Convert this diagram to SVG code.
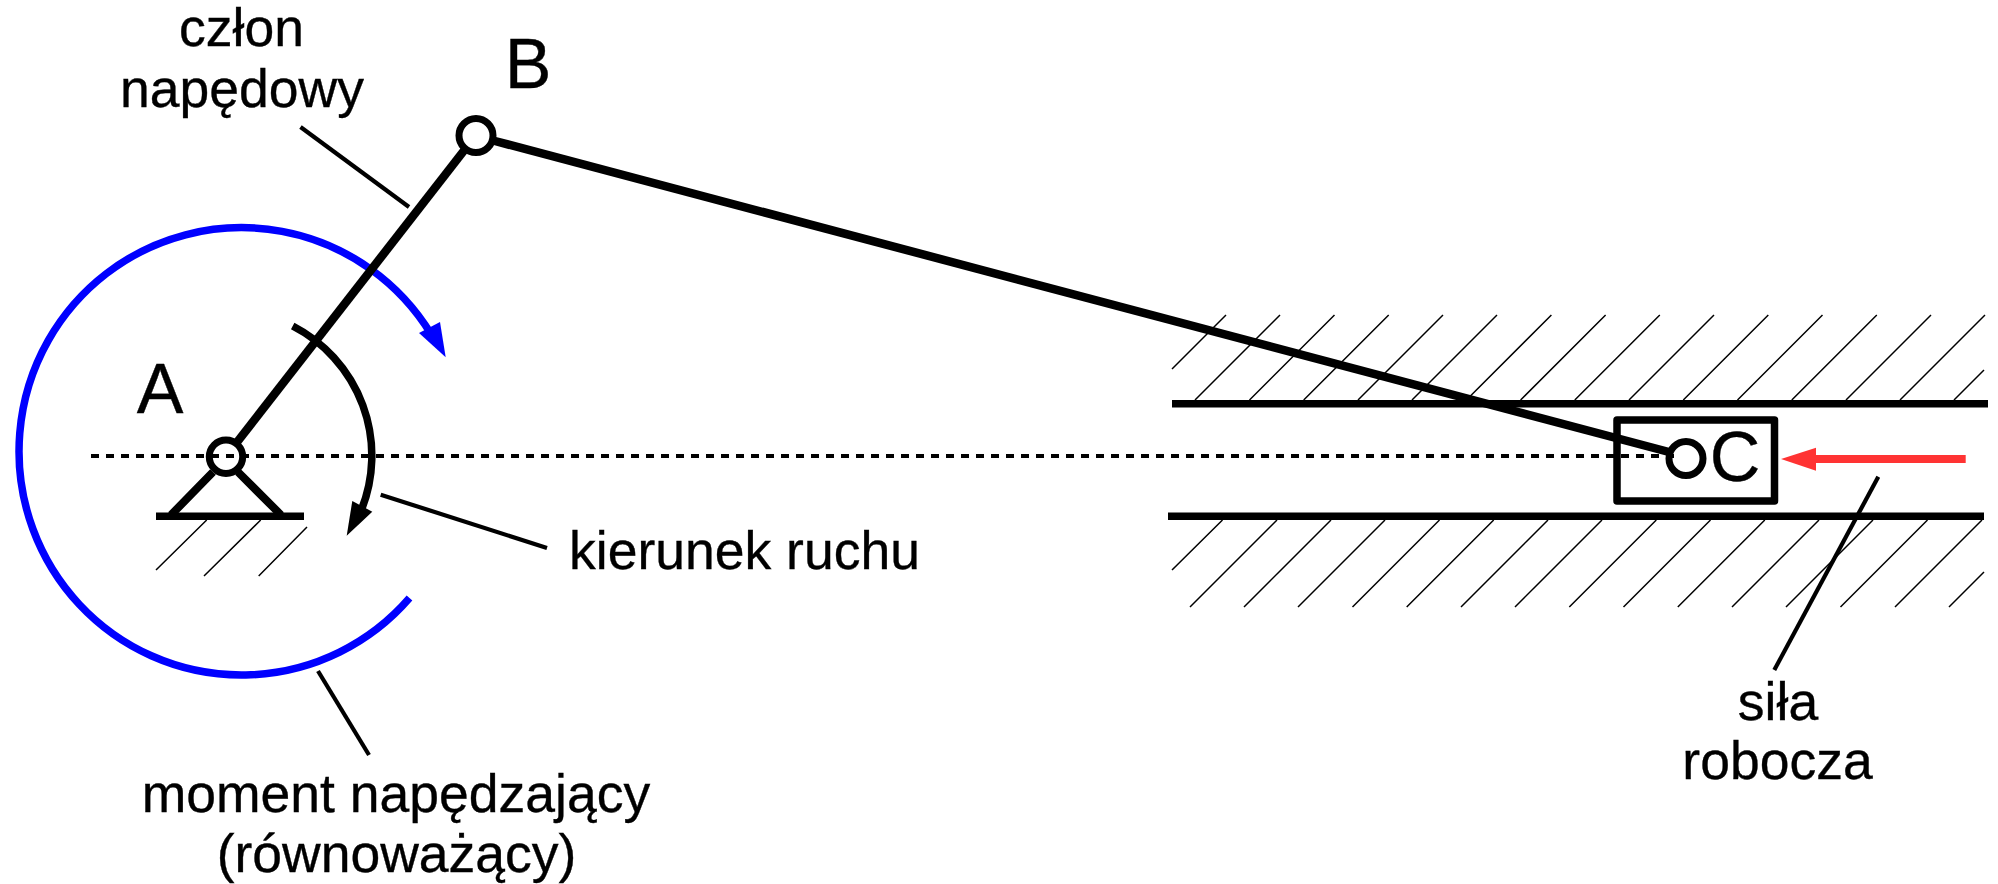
<svg xmlns="http://www.w3.org/2000/svg" width="1998" height="884" viewBox="0 0 1998 884">
<style>
text{font-family:"Liberation Sans",Arial,sans-serif;font-size:53.5px;fill:#000;stroke:#000;stroke-width:.35;text-anchor:middle}
.big{font-size:70px}
.link{fill:none;stroke:#000;stroke-width:8.5}
.pin{fill:none;stroke:#000;stroke-width:7}
.lead{fill:none;stroke:#000;stroke-width:4.2}
.hatch{fill:none;stroke:#000;stroke-width:1.5}
.rail{fill:none;stroke:#000;stroke-width:7.5}
</style>
<rect width="1998" height="884" fill="#fff"/>
<g id="hatching">
<path class="hatch" d="M1226 315L1172 369M1280 315L1195 400M1334.500 315L1249.500 400M1388.700 315L1303.700 400M1443 315L1358 400M1497 315L1412 400M1551.400 315L1466.400 400M1605.600 315L1520.600 400M1659.800 315L1574.800 400M1714 315L1629 400M1768.300 315L1683.300 400M1822.500 315L1737.500 400M1876.800 315L1791.800 400M1931 315L1846 400M1985 315L1900 400M1984 370L1954 400"/>
<path class="hatch" d="M1222.500 520L1172 570M1277 520L1190 607M1331 520L1244 607M1385 520L1298 607M1439.500 520L1352.500 607M1493.700 520L1406.700 607M1548 520L1461 607M1602 520L1515 607M1656.300 520L1569.300 607M1710.500 520L1623.500 607M1764.800 520L1677.800 607M1819 520L1732 607M1873 520L1786 607M1927.500 520L1840.500 607M1982 520L1895 607M1984 572L1949 607"/>
<path class="hatch" d="M206.700 520L156 570M260.700 520L204 576M307 527L258.700 576"/>
</g>
<g id="connectors">
<path id="axis" d="M91 456H1677" fill="none" stroke="#000" stroke-width="4.200" stroke-dasharray="8 7"/>
<path id="moment" d="M409.500 598A222.500 223.700 0 1 1 431 334" fill="none" stroke="#0000ff" stroke-width="7.500"/>
<path d="M445.700 357.300L419 333L440 322Z" fill="#0000ff"/>
<path id="direction" d="M292.700 326A146 146 0 0 1 361 511" fill="none" stroke="#000" stroke-width="7.500"/>
<path d="M346.700 535.700L352.300 501L372.300 511.700Z" fill="#000"/>
<path class="link" d="M236 443.500L466 148"/>
<path class="link" d="M493 140.500L1669 452"/>
<path class="lead" d="M300.500 127L409 207"/>
<path class="lead" d="M380.700 494.700L547 548"/>
<path class="lead" d="M318 671L369 755"/>
<path class="lead" d="M1878.300 476.700L1774.300 670"/>
<path id="force" d="M1965.700 459H1812" fill="none" stroke="#ff3333" stroke-width="8"/>
<path d="M1781 459L1816 447.700V470.700Z" fill="#ff3333"/>
</g>
<g id="ground-A">
<path class="rail" d="M156 516.300H304"/>
<path class="pin" style="stroke-width:8" d="M213 472L171 515M238 472L281 515"/>
</g>
<g id="rails">
<path class="rail" d="M1172 403.700H1988"/>
<path class="rail" d="M1168 516.300H1984"/>
</g>
<g id="slider"><rect x="1617" y="420" width="157.500" height="81" fill="none" stroke="#000" stroke-width="7.500" stroke-linejoin="round"/></g>
<g id="node-A"><circle class="pin" cx="226" cy="456.700" r="16.700"/><text class="big" x="160" y="412.500">A</text></g>
<g id="node-B"><circle class="pin" cx="476" cy="135.500" r="17"/><text class="big" x="528" y="88">B</text></g>
<g id="node-C"><circle class="pin" cx="1686" cy="458.500" r="17"/><text class="big" x="1735" y="480.500">C</text></g>
<g id="labels">
<text x="241.500" y="46">człon</text>
<text x="242" y="106.500">napędowy</text>
<text x="744.500" y="568.500">kierunek ruchu</text>
<text x="396" y="812">moment napędzający</text>
<text x="396.500" y="872">(równoważący)</text>
<text x="1778" y="719.500">siła</text>
<text x="1777.500" y="778.700">robocza</text>
</g>
</svg>
